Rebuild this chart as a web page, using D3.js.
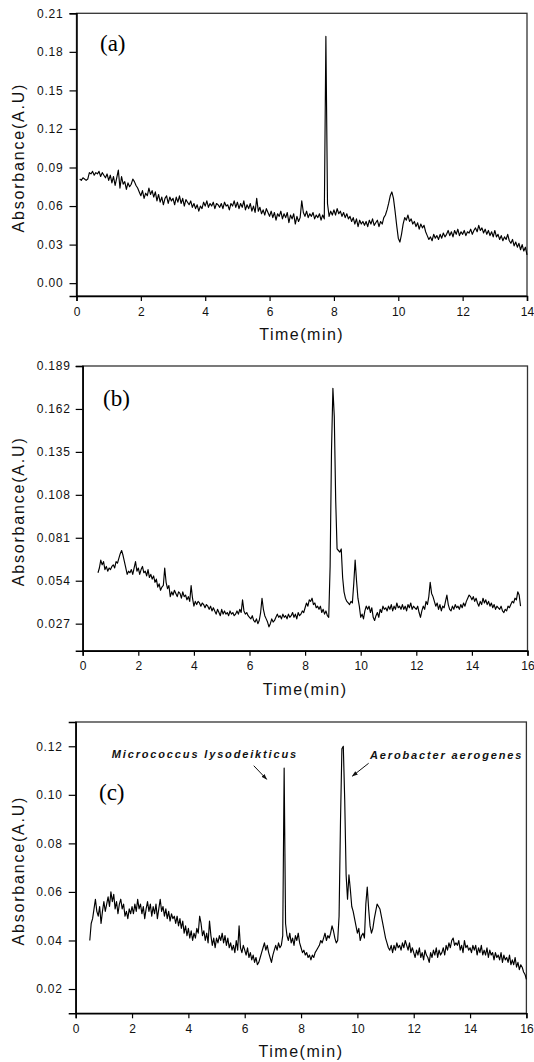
<!DOCTYPE html>
<html><head><meta charset="utf-8">
<script src="https://cdn.jsdelivr.net/npm/d3@7"></script>
<style>body{margin:0;background:#fff} svg{display:block}</style>
</head><body>
<script>
// ---------- DATA ----------
// sample times: start + i*step (min)
const startA = 0.10, stepA = 0.05;
const absA = [
0.081,0.080,0.082,0.081,0.080,0.081,0.086,0.085,
0.087,0.084,0.086,0.085,0.087,0.083,0.086,0.084,0.082,0.085,
0.080,0.084,0.078,0.083,0.076,0.082,0.088,0.074,0.083,0.077,
0.079,0.073,0.078,0.075,0.077,0.081,0.079,0.076,0.074,0.071,
0.068,0.072,0.066,0.070,0.068,0.074,0.069,0.072,0.067,0.071,
0.064,0.069,0.063,0.067,0.061,0.066,0.068,0.062,0.067,0.064,
0.066,0.061,0.067,0.063,0.068,0.062,0.066,0.060,0.065,0.063,
0.061,0.064,0.059,0.062,0.058,0.061,0.056,0.060,0.058,0.063,
0.060,0.064,0.059,0.062,0.060,0.063,0.058,0.062,0.061,0.059,
0.062,0.058,0.063,0.060,0.061,0.057,0.062,0.060,0.064,0.059,
0.063,0.058,0.062,0.059,0.064,0.057,0.061,0.058,0.062,0.056,
0.060,0.055,0.066,0.056,0.059,0.054,0.057,0.053,0.058,0.055,
0.052,0.056,0.051,0.055,0.049,0.054,0.052,0.056,0.050,0.054,
0.051,0.055,0.047,0.053,0.050,0.054,0.046,0.052,0.048,0.051,
0.064,0.055,0.052,0.056,0.051,0.054,0.052,0.055,0.050,0.053,
0.051,0.054,0.049,0.053,0.050,0.192,0.062,0.052,0.056,0.053,
0.057,0.053,0.058,0.054,0.056,0.052,0.055,0.051,0.054,0.050,
0.052,0.048,0.051,0.046,0.050,0.044,0.049,0.046,0.048,0.045,
0.048,0.044,0.049,0.046,0.050,0.045,0.047,0.049,0.044,0.048,
0.046,0.051,0.053,0.057,0.062,0.068,0.071,0.066,0.056,0.045,
0.035,0.032,0.038,0.046,0.051,0.049,0.053,0.048,0.050,0.046,
0.048,0.044,0.047,0.042,0.046,0.043,0.045,0.040,0.037,0.034,
0.036,0.033,0.038,0.035,0.037,0.034,0.038,0.035,0.039,0.036,
0.038,0.041,0.037,0.040,0.036,0.041,0.038,0.042,0.037,0.040,
0.038,0.041,0.037,0.040,0.039,0.042,0.038,0.041,0.043,0.040,
0.045,0.041,0.043,0.039,0.042,0.038,0.041,0.037,0.040,0.036,
0.041,0.036,0.038,0.034,0.037,0.033,0.036,0.034,0.038,0.033,
0.031,0.034,0.029,0.032,0.028,0.031,0.026,0.030,0.025,0.028,
0.022];

const startB = 0.55, stepB = 0.05;
const absB = [
0.059,0.062,0.067,0.064,0.066,0.061,0.063,0.060,0.062,
0.061,0.063,0.064,0.062,0.066,0.065,0.068,0.071,0.073,0.070,
0.066,0.062,0.058,0.060,0.059,0.061,0.058,0.062,0.066,0.060,
0.062,0.058,0.061,0.063,0.059,0.060,0.057,0.061,0.056,0.058,
0.055,0.057,0.053,0.055,0.050,0.052,0.048,0.050,0.051,0.062,
0.053,0.049,0.051,0.044,0.047,0.045,0.048,0.046,0.044,0.047,
0.046,0.043,0.047,0.044,0.045,0.042,0.044,0.041,0.051,0.043,
0.038,0.041,0.039,0.041,0.040,0.038,0.040,0.039,0.037,0.039,
0.038,0.036,0.038,0.035,0.037,0.035,0.033,0.036,0.034,0.032,
0.036,0.033,0.035,0.033,0.034,0.032,0.035,0.033,0.034,0.032,
0.033,0.035,0.033,0.036,0.034,0.042,0.035,0.033,0.034,0.032,
0.031,0.030,0.032,0.029,0.028,0.030,0.027,0.029,0.034,0.043,
0.036,0.032,0.030,0.028,0.025,0.027,0.030,0.028,0.029,0.031,
0.033,0.031,0.032,0.030,0.033,0.031,0.032,0.030,0.033,0.031,
0.032,0.034,0.031,0.033,0.030,0.034,0.032,0.033,0.035,0.034,
0.037,0.040,0.038,0.042,0.041,0.043,0.039,0.040,0.037,0.038,
0.036,0.038,0.034,0.036,0.033,0.035,0.032,0.031,0.063,0.136,
0.175,0.157,0.105,0.074,0.073,0.072,0.074,0.056,0.047,0.043,
0.041,0.040,0.039,0.041,0.040,0.052,0.067,0.054,0.043,0.038,
0.031,0.033,0.030,0.035,0.038,0.036,0.038,0.034,0.037,0.031,
0.029,0.032,0.034,0.031,0.036,0.034,0.038,0.036,0.037,0.035,
0.038,0.036,0.039,0.035,0.038,0.036,0.040,0.037,0.038,0.036,
0.039,0.036,0.038,0.035,0.039,0.037,0.040,0.036,0.038,0.037,
0.036,0.038,0.034,0.031,0.035,0.038,0.036,0.041,0.039,0.044,
0.053,0.046,0.044,0.041,0.038,0.040,0.036,0.039,0.035,0.038,
0.037,0.041,0.045,0.039,0.036,0.035,0.038,0.036,0.039,0.037,
0.038,0.036,0.039,0.037,0.040,0.038,0.041,0.043,0.045,0.044,
0.042,0.044,0.041,0.043,0.040,0.038,0.041,0.039,0.043,0.040,
0.042,0.039,0.041,0.038,0.040,0.037,0.039,0.036,0.038,0.037,
0.036,0.038,0.035,0.034,0.036,0.035,0.038,0.037,0.039,0.041,
0.040,0.043,0.042,0.047,0.045,0.038];

const startC = 0.50, stepC = 0.05;
const absC = [
0.040,0.047,0.049,0.053,0.057,0.052,0.050,0.054,0.047,0.052,
0.056,0.052,0.055,0.058,0.054,0.060,0.056,0.059,0.053,0.056,
0.051,0.055,0.057,0.053,0.055,0.050,0.052,0.049,0.053,0.051,
0.054,0.051,0.055,0.052,0.057,0.053,0.055,0.051,0.054,0.049,
0.053,0.056,0.052,0.055,0.050,0.054,0.051,0.055,0.049,0.053,
0.057,0.052,0.054,0.050,0.053,0.049,0.052,0.048,0.051,0.049,
0.050,0.047,0.050,0.046,0.049,0.045,0.048,0.043,0.046,0.042,
0.045,0.041,0.044,0.040,0.043,0.041,0.045,0.043,0.050,0.047,
0.042,0.044,0.040,0.043,0.039,0.048,0.042,0.038,0.041,0.037,
0.041,0.039,0.042,0.040,0.043,0.039,0.042,0.038,0.041,0.037,
0.039,0.036,0.038,0.035,0.040,0.036,0.046,0.037,0.035,0.038,
0.036,0.034,0.037,0.033,0.035,0.032,0.034,0.031,0.033,0.030,
0.031,0.033,0.035,0.037,0.039,0.036,0.038,0.035,0.033,0.031,
0.034,0.036,0.038,0.036,0.039,0.037,0.038,0.042,0.111,0.047,
0.042,0.040,0.043,0.039,0.041,0.038,0.042,0.040,0.043,0.039,
0.037,0.035,0.036,0.034,0.035,0.033,0.034,0.032,0.034,0.033,
0.035,0.036,0.037,0.038,0.040,0.039,0.041,0.043,0.040,0.042,
0.041,0.043,0.046,0.044,0.041,0.039,0.040,0.050,0.089,0.119,
0.120,0.098,0.067,0.057,0.067,0.061,0.054,0.052,0.049,0.046,
0.043,0.045,0.040,0.042,0.043,0.041,0.055,0.062,0.053,0.046,
0.043,0.045,0.049,0.052,0.055,0.054,0.053,0.050,0.047,0.044,
0.041,0.039,0.037,0.036,0.038,0.035,0.038,0.036,0.039,0.037,
0.038,0.036,0.039,0.037,0.040,0.038,0.036,0.039,0.035,0.037,
0.035,0.033,0.036,0.034,0.037,0.033,0.035,0.032,0.036,0.034,
0.033,0.031,0.035,0.033,0.036,0.034,0.037,0.033,0.036,0.034,
0.035,0.037,0.034,0.038,0.036,0.039,0.037,0.040,0.041,0.038,
0.039,0.038,0.040,0.036,0.038,0.035,0.040,0.037,0.038,0.036,
0.037,0.035,0.038,0.036,0.038,0.034,0.037,0.035,0.038,0.034,
0.036,0.034,0.037,0.033,0.036,0.034,0.035,0.032,0.035,0.033,
0.034,0.032,0.035,0.031,0.034,0.032,0.033,0.031,0.034,0.030,
0.032,0.030,0.033,0.029,0.031,0.028,0.030,0.029,0.027,0.026,
0.024];

const xTicksA = [0,2,4,6,8,10,12,14];
const yTicksA = [0.00,0.03,0.06,0.09,0.12,0.15,0.18,0.21];
const xTicksB = [0,2,4,6,8,10,12,14,16];
const yTicksB = [0.027,0.054,0.081,0.108,0.135,0.162,0.189];
const xTicksC = [0,2,4,6,8,10,12,14,16];
const yTicksC = [0.02,0.04,0.06,0.08,0.10,0.12];

const panelLabels = ["(a)","(b)","(c)"];
const xTitle = "Time(min)";
const yTitle = "Absorbance(A.U)";
// annotations on panel (c): [text, t, absorbance] and arrows [t1,a1,t2,a2]
const annotTexts = [["Micrococcus lysodeikticus",1.28,0.1152],["Aerobacter aerogenes",10.45,0.1146]];
const annotArrows = [[6.32,0.1120,6.78,0.1064],[10.40,0.1130,9.82,0.1077]];

// ---------- LAYOUT ----------
const W = 534, H = 1062;
const svg = d3.select("body").append("svg").attr("width", W).attr("height", H)
  .style("font-family", "'Liberation Sans', Arial, sans-serif");

svg.append("defs").append("marker")
  .attr("id","ah").attr("viewBox","0 0 10 10").attr("refX",9).attr("refY",5)
  .attr("markerWidth",6).attr("markerHeight",6).attr("orient","auto")
  .append("path").attr("d","M0,1.5 L10,5 L0,8.5 Z").attr("fill","#111");

const panels = [
  {label:panelLabels[0], start:startA, step:stepA, values:absA, xDom:[0,14], yDom:[-0.01,0.21],
   xTicks:xTicksA, yTicks:yTicksA, fmt:".2f", l:76.5, r:527, t:13.3, b:296, lab:[100,51], yPad:6},
  {label:panelLabels[1], start:startB, step:stepB, values:absB, xDom:[0,16], yDom:[0.010,0.189],
   xTicks:xTicksB, yTicks:yTicksB, fmt:".3f", l:82.7, r:527.5, t:366, b:650.7, lab:[103,406], yPad:5},
  {label:panelLabels[2], start:startC, step:stepC, values:absC, xDom:[0,16], yDom:[0.01,0.13],
   xTicks:xTicksC, yTicks:yTicksC, fmt:".2f", l:75.7, r:526.4, t:722, b:1013.3, lab:[99,800], yPad:6},
];

panels.forEach((p, pi) => {
  const g = svg.append("g");
  const x = d3.scaleLinear().domain(p.xDom).range([p.l, p.r]);
  const y = d3.scaleLinear().domain(p.yDom).range([p.b, p.t]);

  // frame
  g.append("rect").attr("x", p.l).attr("y", p.t).attr("width", p.r - p.l).attr("height", p.b - p.t)
    .attr("fill","none").attr("stroke","#333").attr("stroke-width",1.3);

  // trace
  const line = d3.line().x((d,i) => x(p.start + i*p.step)).y(d => y(d));
  g.append("path").datum(p.values).attr("d", line)
    .attr("fill","none").attr("stroke","#000").attr("stroke-width",1.15).attr("stroke-linejoin","round");

  // axes
  const ax = g.append("g").attr("transform", `translate(${p.l},0)`)
    .call(d3.axisLeft(y).tickValues(p.yTicks).tickFormat(d3.format(p.fmt)).tickSize(7).tickPadding(p.yPad));
  const bx = g.append("g").attr("transform", `translate(0,${p.b})`)
    .call(d3.axisBottom(x).tickValues(p.xTicks).tickFormat(d3.format("d")).tickSize(5).tickPadding(6));
  [ax, bx].forEach(a => {
    a.select(".domain").attr("stroke","#000").attr("stroke-width",1.5);
    a.selectAll(".tick line").attr("stroke","#000").attr("stroke-width",1.2);
    a.selectAll("text").attr("font-size",12).attr("fill","#111")
      .attr("font-family","'Liberation Sans', Arial, sans-serif");
  });
  ax.selectAll("text").style("letter-spacing","0.8px");

  // titles
  g.append("text").attr("x", (p.l + p.r)/2).attr("y", p.b + 44).attr("text-anchor","middle")
    .attr("font-size",16).style("letter-spacing","1.5px").attr("fill","#111").text(xTitle);
  g.append("text").attr("transform", `translate(24,${(p.t + p.b)/2 + 3}) rotate(-90)`)
    .attr("text-anchor","middle").attr("font-size",16).style("letter-spacing","1.8px")
    .attr("fill","#111").text(yTitle);

  // panel label
  g.append("text").attr("x", p.lab[0]).attr("y", p.lab[1])
    .attr("font-family","'Liberation Serif', 'Times New Roman', serif").attr("font-size",23)
    .attr("fill","#000").text(p.label);

  if (pi === 2) {
    annotTexts.forEach(a => {
      g.append("text").attr("x", x(a[1])).attr("y", y(a[2]))
        .attr("font-size",11).attr("font-weight","bold").attr("font-style","italic")
        .style("letter-spacing","1.85px").attr("fill","#111").text(a[0]);
    });
    annotArrows.forEach(a => {
      g.append("line").attr("x1", x(a[0])).attr("y1", y(a[1])).attr("x2", x(a[2])).attr("y2", y(a[3]))
        .attr("stroke","#111").attr("stroke-width",1).attr("marker-end","url(#ah)");
    });
  }
});
</script>
</body></html>
